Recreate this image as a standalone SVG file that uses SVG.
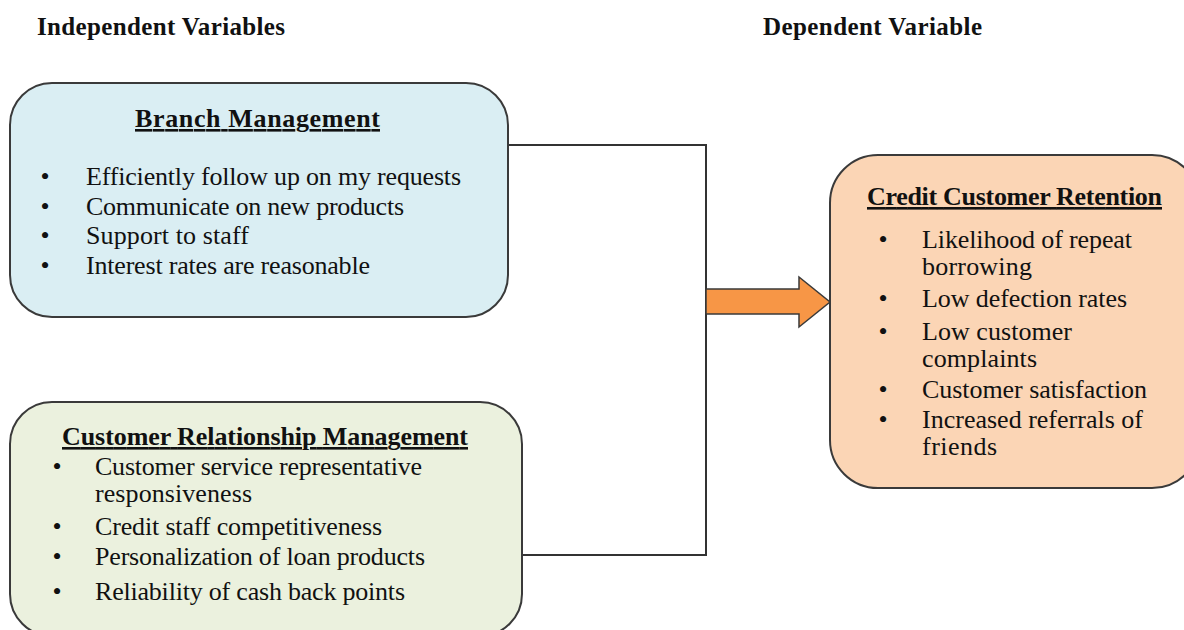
<svg xmlns="http://www.w3.org/2000/svg" width="1184" height="630" viewBox="0 0 1184 630">
<style>
.hdr{font-family:"Liberation Serif","Times New Roman",serif;font-weight:bold;font-size:25px;fill:#111}
.ttl{font-family:"Liberation Serif","Times New Roman",serif;font-weight:bold;font-size:26px;fill:#111;text-decoration:underline}
.itm{font-family:"Liberation Serif","Times New Roman",serif;font-size:26px;fill:#111}
.bul{font-family:"Liberation Serif","Times New Roman",serif;font-size:26px;fill:#111;text-anchor:middle}
.box{stroke:#3a3a3a;stroke-width:2}
.conn{fill:none;stroke:#333;stroke-width:2}
</style>
<rect width="1184" height="630" fill="#fff"/>
<text class="hdr" x="37" y="35" textLength="248">Independent Variables</text>
<text class="hdr" x="763" y="35" textLength="219">Dependent Variable</text>
<g id="connectors">
<polyline class="conn" points="508,145 706,145 706,555 522,555"/>
<polygon points="706,289 799,289 799,277 830,302 799,327 799,314 706,314" fill="#F79646" stroke="#3a3a3a" stroke-width="1.5"/>
</g>
<g id="branch-management">
<rect class="box" x="10" y="83" width="498" height="234" rx="42" fill="#DAEEF3"/>
<text class="ttl" x="135" y="127" textLength="245">Branch Management</text>
<text class="bul" x="45" y="185">•</text><text class="itm" x="86" y="185" textLength="375">Efficiently follow up on my requests</text>
<text class="bul" x="45" y="215">•</text><text class="itm" x="86" y="215" textLength="318">Communicate on new products</text>
<text class="bul" x="45" y="244">•</text><text class="itm" x="86" y="244" textLength="163">Support to staff</text>
<text class="bul" x="45" y="274">•</text><text class="itm" x="86" y="274" textLength="284">Interest rates are reasonable</text>
</g>
<g id="customer-relationship-management">
<rect class="box" x="10" y="402" width="512" height="234" rx="42" fill="#EBF1DE"/>
<text class="ttl" x="62" y="445" textLength="406">Customer Relationship Management</text>
<text class="bul" x="57" y="475">•</text><text class="itm" x="95" y="475" textLength="327">Customer service representative</text>
<text class="itm" x="95" y="502" textLength="157">responsiveness</text>
<text class="bul" x="57" y="535">•</text><text class="itm" x="95" y="535" textLength="287">Credit staff competitiveness</text>
<text class="bul" x="57" y="565">•</text><text class="itm" x="95" y="565" textLength="330">Personalization of loan products</text>
<text class="bul" x="57" y="600">•</text><text class="itm" x="95" y="600" textLength="310">Reliability of cash back points</text>
</g>
<g id="credit-customer-retention">
<rect class="box" x="830" y="155" width="370" height="333" rx="48" fill="#FBD5B5"/>
<text class="ttl" x="867" y="205" textLength="295">Credit Customer Retention</text>
<text class="bul" x="883" y="248">•</text><text class="itm" x="922" y="248" textLength="210">Likelihood of repeat</text>
<text class="itm" x="922" y="275" textLength="110">borrowing</text>
<text class="bul" x="883" y="307">•</text><text class="itm" x="922" y="307" textLength="205">Low defection rates</text>
<text class="bul" x="883" y="340">•</text><text class="itm" x="922" y="340" textLength="150">Low customer</text>
<text class="itm" x="922" y="367" textLength="115">complaints</text>
<text class="bul" x="883" y="398">•</text><text class="itm" x="922" y="398" textLength="225">Customer satisfaction</text>
<text class="bul" x="883" y="428">•</text><text class="itm" x="922" y="428" textLength="221">Increased referrals of</text>
<text class="itm" x="922" y="455" textLength="75">friends</text>
</g>
</svg>
